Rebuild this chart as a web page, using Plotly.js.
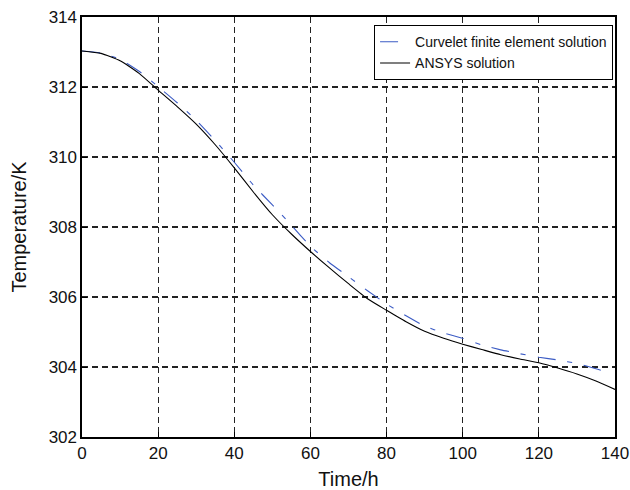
<!DOCTYPE html>
<html>
<head>
<meta charset="utf-8">
<script src="https://cdn.plot.ly/plotly-3.0.1.min.js"></script>
<style>html,body{margin:0;padding:0;background:#fff;}#chart{width:630px;height:490px;}</style>
</head>
<body>
<div id="chart"></div>
<script>
const timeAnsys = [0,5,10,15,20,25,30,35,40,45,50,55,60,65,70,75,80,85,90,95,100,105,110,115,120,125,130,135,140];
const tempAnsys = [313.03,312.96,312.75,312.39,311.91,311.44,310.94,310.35,309.69,309.00,308.35,307.80,307.30,306.83,306.38,305.95,305.62,305.30,305.02,304.82,304.65,304.50,304.35,304.23,304.12,303.97,303.80,303.60,303.36];
const timeCurvelet = [0,5,10,15,20,25,30,35,40,45,50,55,60,65,70,75,80,85,90,95,100,105,110,115,120,125,130,135,138];
const tempCurvelet = [313.03,312.97,312.79,312.45,312.01,311.55,311.05,310.47,309.85,309.20,308.63,308.05,307.45,306.98,306.58,306.18,305.80,305.47,305.17,304.97,304.82,304.63,304.49,304.38,304.28,304.20,304.10,303.95,303.85];
const seriesNames = ["Curvelet finite element solution","ANSYS solution"];
const xTicks = [0,20,40,60,80,100,120,140];
const yTicks = [302,304,306,308,310,312,314];

const FONT = "Liberation Sans, Arial, Helvetica, sans-serif";

const traces = [
  {x: timeCurvelet, y: tempCurvelet, name: seriesNames[0], mode: "lines",
   line: {color: "#3b5bc4", width: 1.1, dash: "18px,12px,5px,12px", shape: "spline", smoothing: 0.5}},
  {x: timeAnsys, y: tempAnsys, name: seriesNames[1], mode: "lines",
   line: {color: "#000000", width: 1.1, shape: "spline", smoothing: 0.5}}
];

const axisCommon = {
  showline: true, mirror: true, linecolor: "#000", linewidth: 1.6,
  showgrid: true, gridcolor: "#222", gridwidth: 1.1, griddash: "6px,4px",
  ticks: "inside", ticklen: 5, tickcolor: "#000",
  zeroline: false,
  tickfont: {family: FONT, size: 17, color: "#111"}
};

const layout = {
  width: 630, height: 490,
  margin: {l: 82, r: 15, t: 17, b: 53},
  paper_bgcolor: "#fff", plot_bgcolor: "#fff",
  showlegend: true,
  legend: {x: 0.996, xanchor: "right", y: 0.981, yanchor: "top",
    bordercolor: "#000", borderwidth: 1.2, bgcolor: "#fff",
    font: {family: FONT, size: 14, color: "#111"},
    tracegroupgap: 0},
  xaxis: Object.assign({}, axisCommon, {range: [0, 140], tickvals: xTicks,
    title: {text: "Time/h", font: {family: FONT, size: 20, color: "#111"}, standoff: 13}}),
  yaxis: Object.assign({}, axisCommon, {range: [302, 314], tickvals: yTicks,
    title: {text: "Temperature/K", font: {family: FONT, size: 20, color: "#111"}, standoff: 16}})
};

Plotly.newPlot("chart", traces, layout, {staticPlot: true, displayModeBar: false});
</script>
</body>
</html>
